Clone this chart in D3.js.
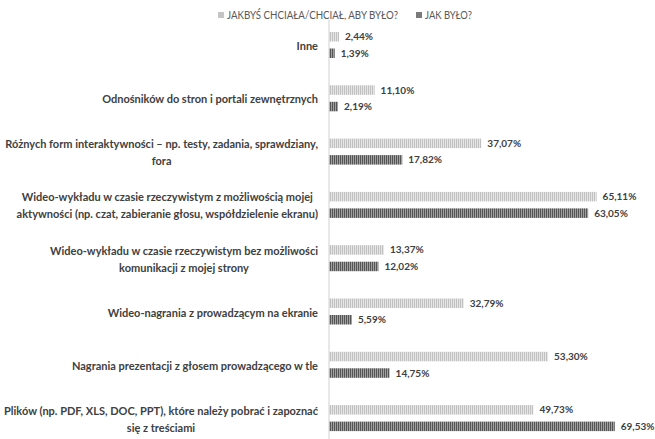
<!DOCTYPE html>
<html>
<head>
<meta charset="utf-8">
<script src="https://cdn.jsdelivr.net/npm/d3@7"></script>
<style>
  body { margin: 0; background: #fff; }
  svg { display: block; }
  .cat-label { font-family: Lato, "Open Sans", sans-serif; font-weight: bold; font-size: 11px; fill: #404040; }
  .val-label { font-family: Lato, "Open Sans", sans-serif; font-weight: bold; font-size: 10px; fill: #404040; }
  .legend-text { font-family: Lato, "Open Sans", sans-serif; font-size: 10.5px; fill: #595959; }
</style>
</head>
<body>
<svg id="chart" width="655" height="439"></svg>
<script>
// Category labels (line breaks as in the original)
var categories = [
    ["Inne"],
    ["Odnośników do stron i portali zewnętrznych"],
    ["Różnych form interaktywności – np. testy, zadania, sprawdziany,", "fora"],
    ["Wideo-wykładu w czasie rzeczywistym z możliwością mojej", "aktywności (np. czat, zabieranie głosu, współdzielenie ekranu)"],
    ["Wideo-wykładu w czasie rzeczywistym bez możliwości", "komunikacji z mojej strony"],
    ["Wideo-nagrania z prowadzącym na ekranie"],
    ["Nagrania prezentacji z głosem prowadzącego w tle"],
    ["Plików (np. PDF, XLS, DOC, PPT), które należy pobrać i zapoznać", "się z treściami"]
];
var seriesNames = ["JAKBYŚ CHCIAŁA/CHCIAŁ, ABY BYŁO?", "JAK BYŁO?"];
var wanted = [2.44, 11.10, 37.07, 65.11, 13.37, 32.79, 53.30, 49.73];
var actual = [1.39, 2.19, 17.82, 63.05, 12.02, 5.59, 14.75, 69.53];

var svg = d3.select("#chart");
var axisX = 329;

// Stripe patterns for the two series
var defs = svg.append("defs");
function addPattern(id, base, stripe) {
    var p = defs.append("pattern")
        .attr("id", id)
        .attr("patternUnits", "userSpaceOnUse")
        .attr("width", 2)
        .attr("height", 10);
    p.append("rect").attr("width", 2).attr("height", 10).attr("fill", base);
    p.append("rect").attr("width", 1).attr("height", 10).attr("fill", stripe);
}
addPattern("pat-light", "#e6e6e6", "#c0c0c0");
addPattern("pat-dark", "#a0a0a0", "#555555");

var x = d3.scaleLinear().domain([0, 100]).range([axisX, axisX + 411]);
var y = d3.scaleBand()
    .domain(d3.range(categories.length))
    .range([18.35, 18.35 + 53.3 * categories.length])
    .padding(0);

var barH = 9.5, gap = 3.5;

var groups = svg.selectAll(".group")
    .data(categories)
    .enter()
    .append("g")
        .attr("class", "group")
        .attr("transform", function(d, i) { return "translate(0," + (y(i) + y.bandwidth() / 2) + ")"; });

// Bars
groups.append("rect")
    .attr("x", x(0))
    .attr("y", -gap - barH)
    .attr("width", function(d, i) { return x(wanted[i]) - x(0); })
    .attr("height", barH)
    .attr("fill", "url(#pat-light)");

groups.append("rect")
    .attr("x", x(0))
    .attr("y", gap)
    .attr("width", function(d, i) { return x(actual[i]) - x(0); })
    .attr("height", barH)
    .attr("fill", "url(#pat-dark)");

// Value labels
var fmt = function(v) { return v.toFixed(2).replace(".", ",") + "%"; };
groups.append("text")
    .attr("class", "val-label")
    .attr("x", function(d, i) { return x(wanted[i]) + 6; })
    .attr("y", -gap - barH / 2)
    .attr("dy", "0.35em")
    .text(function(d, i) { return fmt(wanted[i]); });

groups.append("text")
    .attr("class", "val-label")
    .attr("x", function(d, i) { return x(actual[i]) + 6; })
    .attr("y", gap + barH / 2)
    .attr("dy", "0.35em")
    .text(function(d, i) { return fmt(actual[i]); });

// Category labels: block right-aligned, lines centered inside it
var labelRight = 318, lineH = 17;
groups.each(function(lines) {
    var g = d3.select(this);
    var t = g.append("text").attr("class", "cat-label").attr("text-anchor", "middle");
    var spans = t.selectAll("tspan").data(lines).enter().append("tspan")
        .attr("dy", function(d, j) { return j == 0 ? (-(lines.length - 1) * lineH / 2) + "px" : lineH + "px"; })
        .text(function(d) { return d; });
    var maxW = 0;
    spans.each(function() { maxW = Math.max(maxW, this.getComputedTextLength()); });
    spans.attr("x", labelRight - maxW / 2);
    t.attr("y", 0).attr("dominant-baseline", "central");
    spans.attr("dominant-baseline", "central");
});

// Vertical axis line
svg.append("line")
    .attr("x1", axisX).attr("x2", axisX)
    .attr("y1", 20).attr("y2", 439)
    .attr("stroke", "#d0d0d0")
    .attr("stroke-width", 1);

// Legend
var legendX = [218, 416];
var legendW = [171, 47];
var legendColors = ["#c4c4c4", "#7a7a7a"];
var legendItems = svg.selectAll(".legend-item")
    .data(seriesNames)
    .enter()
    .append("g")
        .attr("class", "legend-item")
        .attr("transform", function(d, i) { return "translate(" + legendX[i] + ",15)"; });
legendItems.append("rect")
    .attr("x", 0).attr("y", -3)
    .attr("width", 6).attr("height", 6)
    .attr("fill", function(d, i) { return legendColors[i]; });
legendItems.append("text")
    .attr("class", "legend-text")
    .attr("x", 9)
    .attr("y", 0)
    .attr("dy", "0.35em")
    .attr("textLength", function(d, i) { return legendW[i]; })
    .attr("lengthAdjust", "spacingAndGlyphs")
    .text(function(d) { return d; });
</script>
</body>
</html>
